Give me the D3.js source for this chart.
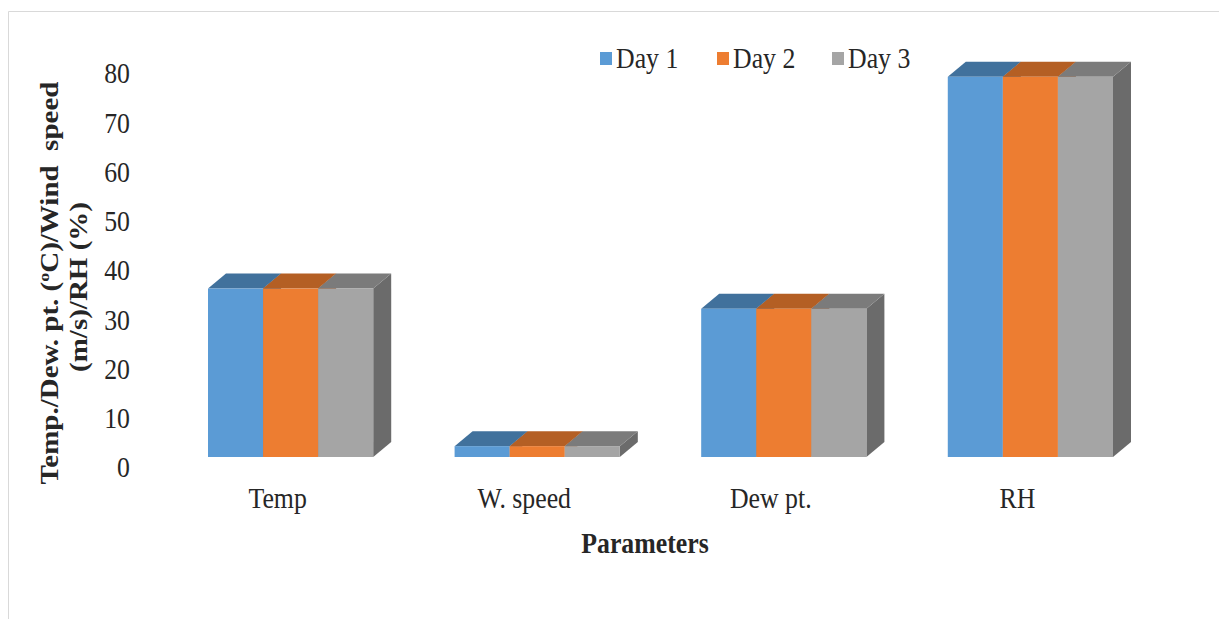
<!DOCTYPE html>
<html>
<head>
<meta charset="utf-8">
<script src="https://cdn.jsdelivr.net/npm/d3@7"></script>
<style>
  html, body { margin: 0; padding: 0; background: #fff; }
  svg { display: block; }
  text { font-family: "Liberation Serif", "Times New Roman", serif; fill: #262626; }
</style>
</head>
<body>
<svg id="chart" width="1219" height="619"></svg>
<script>
// Weather parameters over three days
const categories = ["Temp", "W. speed", "Dew pt.", "RH"];
const seriesNames = ["Day 1", "Day 2", "Day 3"];
const day1 = [34.2, 2.2, 30.1, 77.2];
const day2 = [34.2, 2.2, 30.1, 77.2];
const day3 = [34.2, 2.2, 30.1, 77.2];
const yTicks = [0, 10, 20, 30, 40, 50, 60, 70, 80];

const seriesValues = [day1, day2, day3];
const frontColors = ["#5B9BD5", "#ED7D31", "#A5A5A5"];
const topColors   = ["#41719C", "#B45F24", "#7B7B7B"];
const sideColors  = ["#3F6F9A", "#A9561E", "#6B6B6B"];

const svg = d3.select("#chart");
const SX = 0.86;          // horizontal squeeze of the type
const depthX = 18, depthY = 15;

// frame lines (top and left)
svg.append("line").attr("x1", 8.5).attr("y1", 11.5).attr("x2", 1219).attr("y2", 11.5)
  .attr("stroke", "#d9d9d9").attr("stroke-width", 1);
svg.append("line").attr("x1", 8.5).attr("y1", 11.5).attr("x2", 8.5).attr("y2", 619)
  .attr("stroke", "#d9d9d9").attr("stroke-width", 1);

const x = d3.scaleBand().domain(categories).range([208, 1113]).paddingInner(0.33).paddingOuter(0);
const xs = d3.scaleBand().domain(seriesNames).range([0, x.bandwidth()]).padding(0);
const y = d3.scaleLinear().domain([0, 80]).range([457, 457 - 80 * 4.925]);

// value axis labels
const yAxis = d3.axisLeft(y).tickValues(yTicks).tickSize(0).tickPadding(0);
const yg = svg.append("g").attr("transform", "translate(130,10)").call(yAxis);
yg.select(".domain").remove();
yg.selectAll("text")
  .attr("font-size", 30).attr("fill", "#262626")
  .attr("font-family", "Liberation Serif, serif")
  .attr("x", 0).attr("dy", "0.33em")
  .attr("text-anchor", "end")
  .attr("transform", function(d) { const yy = y(d); return `translate(0,${yy}) scale(${SX},1) translate(0,${-yy})`; });

// 3D bars
const bars = svg.append("g");
categories.forEach((cat, ci) => {
  seriesNames.forEach((s, si) => {
    const v = seriesValues[si][ci];
    const x0 = x(cat) + xs(s), w = xs.bandwidth();
    const yt = y(v), yb = y(0);
    const g = bars.append("g");
    // side face
    g.append("polygon")
      .attr("points", [[x0 + w, yt], [x0 + w + depthX, yt - depthY], [x0 + w + depthX, yb - depthY], [x0 + w, yb]].join(" "))
      .attr("fill", sideColors[si]);
    // top face
    g.append("polygon")
      .attr("points", [[x0, yt], [x0 + depthX, yt - depthY], [x0 + w + depthX, yt - depthY], [x0 + w, yt]].join(" "))
      .attr("fill", topColors[si]);
    // front face
    g.append("rect").attr("x", x0).attr("y", yt).attr("width", w).attr("height", yb - yt)
      .attr("fill", frontColors[si]);
  });
});

// category labels
categories.forEach(cat => {
  const cx = x(cat) + x.bandwidth() / 2 - 13;
  svg.append("text").attr("font-size", 30).attr("text-anchor", "middle")
    .attr("transform", `translate(${cx},508) scale(${SX},1)`).text(cat);
});

// axis titles
svg.append("text").attr("font-size", 30).attr("font-weight", "bold").attr("text-anchor", "middle")
  .attr("transform", `translate(645,553) scale(${SX},1)`).text("Parameters");

const yt1 = svg.append("text").attr("font-size", 29).attr("font-weight", "bold").attr("text-anchor", "middle")
  .attr("transform", `translate(58,283) scale(${SX},1) rotate(-90)`).style("white-space", "pre");
yt1.append("tspan").text("Temp./Dew. pt. (");
yt1.append("tspan").attr("font-size", 18).attr("dy", -10).text("o");
yt1.append("tspan").attr("dy", 10).text("C)/Wind  speed");
svg.append("text").attr("font-size", 29).attr("font-weight", "bold").attr("text-anchor", "middle")
  .attr("transform", `translate(87,287) scale(${SX},1) rotate(-90)`).text("(m/s)/RH (%)");

// legend
const legendX = [600, 717, 832];
seriesNames.forEach((s, i) => {
  svg.append("rect").attr("x", legendX[i]).attr("y", 52).attr("width", 12).attr("height", 13)
    .attr("fill", frontColors[i]);
  svg.append("text").attr("font-size", 30)
    .attr("transform", `translate(${legendX[i] + 16},68) scale(${SX},1)`).text(s);
});
</script>
</body>
</html>
